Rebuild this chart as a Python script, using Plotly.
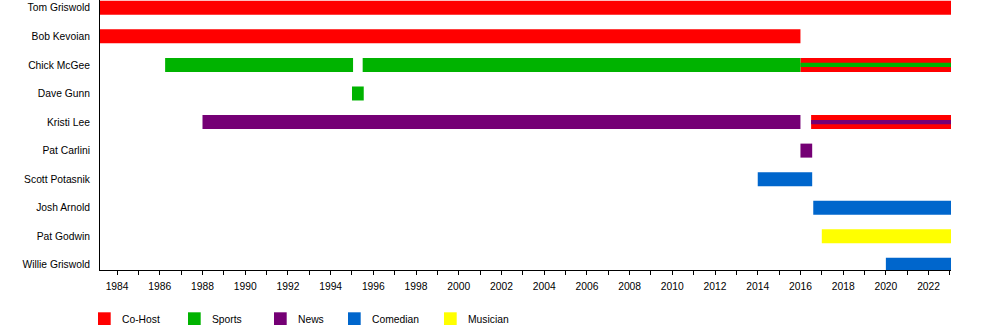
import plotly.graph_objects as go

members = ["Tom Griswold", "Bob Kevoian", "Chick McGee", "Dave Gunn", "Kristi Lee",
           "Pat Carlini", "Scott Potasnik", "Josh Arnold", "Pat Godwin", "Willie Griswold"]

roles = ["Co-Host", "Sports", "News", "Comedian", "Musician"]
role_colors = ["#FF0000", "#00B300", "#750075", "#0066CC", "#FFFF00"]

# main tenure bars
seg_member = ["Tom Griswold", "Bob Kevoian", "Chick McGee", "Chick McGee", "Chick McGee",
              "Dave Gunn", "Kristi Lee", "Kristi Lee", "Pat Carlini", "Scott Potasnik",
              "Josh Arnold", "Pat Godwin", "Willie Griswold"]
seg_start = [1983.2, 1983.2, 1986.25, 1995.5, 2016.0,
             1995.0, 1988.0, 2016.5, 2016.0, 2014.0,
             2016.6, 2017.0, 2020.0]
seg_end = [2023.05, 2016.0, 1995.05, 2016.0, 2023.05,
           1995.55, 2016.0, 2023.05, 2016.55, 2016.55,
           2023.05, 2023.05, 2023.05]
seg_role = ["Co-Host", "Co-Host", "Sports", "Sports", "Co-Host",
            "Sports", "News", "Co-Host", "News", "Comedian",
            "Comedian", "Musician", "Comedian"]

# thin secondary-role stripes inside co-host bars
stripe_member = ["Chick McGee", "Kristi Lee"]
stripe_start = [2016.0, 2016.5]
stripe_end = [2023.05, 2023.05]
stripe_role = ["Sports", "News"]

x_start, x_end = 1983.2, 2023.05

# ---- layout constants (pixels) ----
W, H = 1000, 330
ML, MR, MT, MB = 100, 49, 0, 60
PW, PH = W - ML - MR, H - MT - MB
def px_x(p):
    return (p - ML) / PW
def px_y(p):
    return (MT + PH - p) / PH

fig = go.Figure()
for role, col in zip(roles, role_colors):
    idx = [i for i, r in enumerate(seg_role) if r == role]
    fig.add_trace(go.Bar(
        orientation="h",
        y=[seg_member[i] for i in idx],
        base=[seg_start[i] for i in idx],
        x=[seg_end[i] - seg_start[i] for i in idx],
        width=0.49,
        marker=dict(color=col, line=dict(width=0)),
        name=role,
        showlegend=False,
        hoverinfo="skip",
    ))
for i in range(len(stripe_member)):
    col = role_colors[roles.index(stripe_role[i])]
    fig.add_trace(go.Bar(
        orientation="h",
        y=[stripe_member[i]],
        base=[stripe_start[i]],
        x=[stripe_end[i] - stripe_start[i]],
        width=0.15,
        marker=dict(color=col, line=dict(width=0)),
        showlegend=False,
        hoverinfo="skip",
    ))

# custom legend (squares + labels) placed under the axis
legend_sq_left = [98, 188, 274, 348, 444]
shapes, annots = [], []
for role, col, xl in zip(roles, role_colors, legend_sq_left):
    shapes.append(dict(type="rect", xref="paper", yref="paper",
                       x0=px_x(xl), x1=px_x(xl + 12.7), y0=px_y(312.3), y1=px_y(325),
                       fillcolor=col, line=dict(width=0), layer="above"))
    annots.append(dict(text=role, xref="paper", yref="paper", x=px_x(xl + 22), y=px_y(319),
                       xanchor="left", yanchor="middle", showarrow=False,
                       font=dict(size=10.3)))

font_family = "Liberation Sans, Arial, sans-serif"
fig.update_layout(
    width=W, height=H,
    margin=dict(l=ML, r=MR, t=MT, b=MB),
    paper_bgcolor="white", plot_bgcolor="white",
    barmode="overlay",
    font=dict(family=font_family, size=10.3, color="black"),
    showlegend=False,
    shapes=shapes,
    annotations=annots,
    xaxis=dict(
        range=[x_start, x_end], showgrid=False, zeroline=False,
        showline=True, linecolor="black", linewidth=1,
        ticks="outside", ticklen=4, tickcolor="black",
        tick0=1984, dtick=2, ticklabelstandoff=3,
        minor=dict(ticks="outside", ticklen=4, tickcolor="black", tick0=1983, dtick=1, showgrid=False),
        tickfont=dict(size=10.3),
    ),
    yaxis=dict(
        type="category", categoryorder="array", categoryarray=members,
        range=[9.18, -0.273], showgrid=False, zeroline=False,
        showline=True, linecolor="black", linewidth=1,
        ticks="", ticklabelstandoff=7, tickfont=dict(size=10.3),
    ),
)

fig.write_html("out.html")
